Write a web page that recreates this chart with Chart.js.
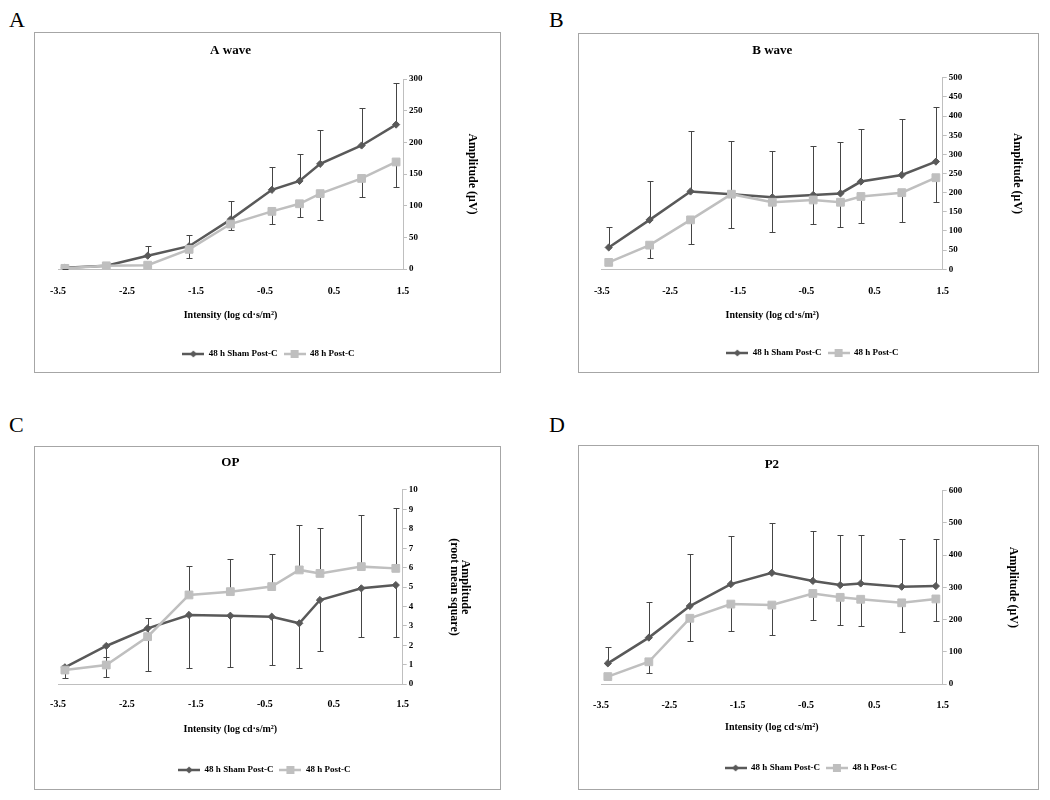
<!DOCTYPE html>
<html>
<head>
<meta charset="utf-8">
<script src="https://cdn.jsdelivr.net/npm/chart.js@4"></script>
<style>
html,body{margin:0;padding:0;background:#fff;}
#page{position:relative;width:1050px;height:800px;overflow:hidden;background:#fff;}
.frame{position:absolute;box-sizing:border-box;border:1px solid #a6a6a6;}
.holder{position:absolute;}
.letter{position:absolute;font-family:"Liberation Serif","Times New Roman",serif;font-size:22px;line-height:22px;color:#000;}
</style>
</head>
<body>
<div id="page">
  <div class="letter" style="left:9px;top:9px;">A</div>
  <div class="letter" style="left:549px;top:9px;">B</div>
  <div class="letter" style="left:9px;top:414px;">C</div>
  <div class="letter" style="left:549px;top:414px;">D</div>
</div>
<script>
// ---------- data ----------
const intensity = [-3.4, -2.8, -2.2, -1.6, -1.0, -0.4, 0.0, 0.3, 0.9, 1.4];
const xTickValues = [-3.5, -2.5, -1.5, -0.5, 0.5, 1.5];
const seriesNames = ['48 h Sham Post-C', '48 h Post-C'];
const xAxisTitle = 'Intensity (log cd·s/m²)';

// A wave
const aYTicks = [0, 50, 100, 150, 200, 250, 300];
const aShamMean = [2, 5, 21, 36, 78, 125, 139, 166, 195, 228];
const aShamErr  = [2, 3, 15, 18, 29, 36, 42, 53, 59, 65];
const aPostMean = [1, 5, 6, 31, 71, 91, 103, 119, 143, 169];
const aPostErr  = [1, 2, 2, 13, 10, 20, 21, 42, 30, 40];

// B wave
const bYTicks = [0, 50, 100, 150, 200, 250, 300, 350, 400, 450, 500];
const bShamMean = [57, 129, 203, 196, 188, 194, 198, 229, 246, 281];
const bShamErr  = [53, 101, 159, 140, 122, 129, 134, 138, 146, 143];
const bPostMean = [18, 63, 129, 196, 175, 181, 175, 190, 200, 239];
const bPostErr  = [5, 34, 64, 89, 78, 63, 65, 70, 76, 64];

// OP
const cYTicks = [0, 1, 2, 3, 4, 5, 6, 7, 8, 9, 10];
const cShamMean = [0.86, 1.96, 2.87, 3.56, 3.52, 3.47, 3.13, 4.33, 4.93, 5.10];
const cShamErr  = [0.57, 1.58, 2.22, 2.75, 2.63, 2.51, 2.32, 2.61, 2.49, 2.69];
const cPostMean = [0.72, 0.98, 2.44, 4.59, 4.76, 5.02, 5.88, 5.70, 6.05, 5.96];
const cPostErr  = [0.26, 0.39, 0.98, 1.49, 1.70, 1.68, 2.32, 2.36, 2.66, 3.13];

// P2
const dYTicks = [0, 100, 200, 300, 400, 500, 600];
const dShamMean = [64, 144, 242, 310, 345, 320, 307, 312, 302, 304];
const dShamErr  = [52, 109, 160, 149, 154, 155, 155, 150, 149, 145];
const dPostMean = [23, 69, 204, 248, 245, 281, 269, 263, 252, 264];
const dPostErr  = [5, 36, 70, 82, 93, 82, 86, 83, 90, 67];

// ---------- styles ----------
Chart.defaults.font.family = "'Liberation Serif', 'Times New Roman', serif";
Chart.defaults.color = '#000';
Chart.defaults.animation = false;

const SHAM_COLOR = '#595959';
const POST_COLOR = '#bfbfbf';
const ERR_COLOR = '#454545';
const AXIS_COLOR = '#bfbfbf';

function legendImage(color, shape) {
  const c = document.createElement('canvas');
  c.width = 22; c.height = 10;
  const g = c.getContext('2d');
  g.strokeStyle = color; g.lineWidth = 2.5;
  g.beginPath(); g.moveTo(0, 5); g.lineTo(22, 5); g.stroke();
  g.fillStyle = color;
  if (shape === 'diamond') {
    g.beginPath(); g.moveTo(11, 1.5); g.lineTo(14.5, 5); g.lineTo(11, 8.5); g.lineTo(7.5, 5); g.closePath(); g.fill();
  } else {
    g.fillRect(7, 1, 8, 8);
  }
  return c;
}
const legendImgs = [legendImage(SHAM_COLOR, 'diamond'), legendImage(POST_COLOR, 'square')];

const errorBars = {
  id: 'errorBars',
  beforeDatasetsDraw(chart) {
    const {ctx, scales: {x, y}} = chart;
    ctx.save();
    ctx.strokeStyle = ERR_COLOR;
    ctx.lineWidth = 1;
    chart.data.datasets.forEach(ds => {
      ds.data.forEach((p, j) => {
        const e = ds.errors[j];
        if (!e) return;
        const px = Math.round(x.getPixelForValue(p.x)) + 0.5;
        const py = y.getPixelForValue(p.y);
        const pe = Math.round(y.getPixelForValue(p.y + ds.errDir * e)) + 0.5;
        ctx.beginPath();
        ctx.moveTo(px, py); ctx.lineTo(px, pe);
        ctx.moveTo(px - 3, pe); ctx.lineTo(px + 3, pe);
        ctx.stroke();
      });
    });
    ctx.restore();
  }
};

const panels = [
  {title: 'A wave', yTicks: aYTicks, yTitle: 'Amplitude (μV)',
   sham: aShamMean, shamErr: aShamErr, shamDir: 1, post: aPostMean, postErr: aPostErr, postDir: -1,
   layout: {left: 34, top: 32, w: 467, h: 341, padL: 24, chartTop: 47, chartBottom: 237, chartRight: 369,
            titleC: 18.7, yTitleC: 437.7, yTitleLH: 14.4, xTitleC: 283, tickGap: 22, legendC: 322}},
  {title: 'B wave', yTicks: bYTicks, yTitle: 'Amplitude (μV)',
   sham: bShamMean, shamErr: bShamErr, shamDir: 1, post: bPostMean, postErr: bPostErr, postDir: -1,
   layout: {left: 578, top: 33, w: 461, h: 340, padL: 23, chartTop: 44.7, chartBottom: 236.3, chartRight: 364.7,
            titleC: 17.7, yTitleC: 438.7, yTitleLH: 14.4, xTitleC: 282, tickGap: 22, legendC: 320}},
  {title: 'OP', yTicks: cYTicks, yTitle: ['Amplitude', '(root mean square)'],
   sham: cShamMean, shamErr: cShamErr, shamDir: -1, post: cPostMean, postErr: cPostErr, postDir: 1,
   layout: {left: 34, top: 446, w: 467, h: 344, padL: 24, chartTop: 44, chartBottom: 238, chartRight: 368.7,
            titleC: 17, yTitleC: 431, yTitleLH: 11, xTitleC: 283, tickGap: 20, legendC: 324}},
  {title: 'P2', yTicks: dYTicks, yTitle: 'Amplitude (μV)',
   sham: dShamMean, shamErr: dShamErr, shamDir: 1, post: dPostMean, postErr: dPostErr, postDir: -1,
   layout: {left: 578, top: 445, w: 461, h: 345, padL: 23, chartTop: 45.7, chartBottom: 239, chartRight: 364.7,
            titleC: 20, yTitleC: 435.3, yTitleLH: 14.4, xTitleC: 282, tickGap: 21, legendC: 323}}
];

const page = document.getElementById('page');

function buildPanel(p) {
  const L = p.layout;
  const frame = document.createElement('div');
  frame.className = 'frame';
  Object.assign(frame.style, {left: L.left + 'px', top: L.top + 'px', width: L.w + 'px', height: L.h + 'px'});
  const holder = document.createElement('div');
  holder.className = 'holder';
  Object.assign(holder.style, {left: L.left + 'px', top: L.top + 'px', width: L.w + 'px', height: L.h + 'px'});
  const canvas = document.createElement('canvas');
  holder.appendChild(canvas);
  page.appendChild(frame);
  page.appendChild(holder);

  const LH_T = 13 * 1.2;
  const titlePadTop = L.titleC - LH_T / 2;
  const titlePadBottom = L.chartTop - titlePadTop - LH_T;

  const yScaleRight = L.yTitleC + L.yTitleLH / 2;
  const padR = L.w - yScaleRight;
  const yWidth = yScaleRight - L.chartRight;

  const LHx = 12;
  const legendFont = 9, legendPad = 6;
  const legendTop = L.legendC - (legendPad + legendFont / 2);
  const xHeight = legendTop - L.chartBottom;
  const xTitlePadBottom = L.chartBottom + xHeight - LHx / 2 - L.xTitleC;
  const legendH = legendFont + legendPad + 10;
  const padB = L.h - (legendTop + legendH);

  new Chart(canvas, {
    type: 'line',
    data: {
      datasets: [
        {label: seriesNames[0], data: intensity.map((x, i) => ({x, y: p.sham[i]})),
         borderColor: SHAM_COLOR, backgroundColor: SHAM_COLOR, borderWidth: 2.5, tension: 0,
         pointStyle: 'rectRot', pointRadius: 3.6, pointBackgroundColor: SHAM_COLOR, pointBorderColor: SHAM_COLOR,
         pointBorderWidth: 1, errors: p.shamErr, errDir: p.shamDir, order: 1},
        {label: seriesNames[1], data: intensity.map((x, i) => ({x, y: p.post[i]})),
         borderColor: POST_COLOR, backgroundColor: POST_COLOR, borderWidth: 2.5, tension: 0,
         pointStyle: 'rect', pointRadius: 5.5, pointBackgroundColor: POST_COLOR, pointBorderColor: POST_COLOR,
         pointBorderWidth: 1, errors: p.postErr, errDir: p.postDir, order: 0}
      ]
    },
    options: {
      responsive: true,
      maintainAspectRatio: false,
      animation: false,
      layout: {padding: {left: L.padL, right: padR, top: 0, bottom: padB}},
      plugins: {
        tooltip: {enabled: false},
        title: {display: true, text: p.title, fullSize: false, color: '#000',
                font: {size: 13, weight: 'bold'}, padding: {top: titlePadTop, bottom: titlePadBottom}},
        legend: {
          position: 'bottom',
          labels: {
            font: {size: legendFont, weight: 'bold'}, color: '#000', usePointStyle: true,
            pointStyleWidth: 22, padding: legendPad,
            generateLabels: chart => chart.data.datasets.map((ds, i) => ({
              text: ds.label, pointStyle: legendImgs[i], fillStyle: ds.borderColor,
              strokeStyle: ds.borderColor, lineWidth: 0, hidden: false, datasetIndex: i, fontColor: '#000'
            }))
          }
        }
      },
      scales: {
        x: {
          type: 'linear', position: 'bottom',
          min: xTickValues[0], max: xTickValues[xTickValues.length - 1],
          afterBuildTicks: s => { s.ticks = xTickValues.map(v => ({value: v})); },
          ticks: {font: {size: 10, weight: 'bold'}, color: '#000', padding: L.tickGap - LHx / 2,
                  maxRotation: 0, autoSkip: false, callback: v => v.toFixed(1)},
          grid: {display: false, drawTicks: false},
          border: {display: true, color: AXIS_COLOR, width: 1},
          title: {display: true, text: xAxisTitle, color: '#000', font: {size: 10, weight: 'bold', lineHeight: 1.2},
                  padding: {top: 0, bottom: xTitlePadBottom}},
          afterFit: s => { s.height = xHeight; }
        },
        y: {
          type: 'linear', position: 'right',
          min: p.yTicks[0], max: p.yTicks[p.yTicks.length - 1],
          afterBuildTicks: s => { s.ticks = p.yTicks.map(v => ({value: v})); },
          ticks: {font: {size: 9, weight: 'bold'}, color: '#000', padding: 2},
          grid: {display: true, drawOnChartArea: false, drawTicks: true, tickLength: 4, color: AXIS_COLOR},
          border: {display: true, color: AXIS_COLOR, width: 1},
          title: {display: true, text: p.yTitle, color: '#000',
                  font: {size: 12, weight: 'bold', lineHeight: L.yTitleLH + 'px'},
                  padding: {top: 0, bottom: 0}},
          afterFit: s => { s.width = yWidth; }
        }
      }
    },
    plugins: [errorBars]
  });
}

panels.forEach(buildPanel);
</script>
</body>
</html>
